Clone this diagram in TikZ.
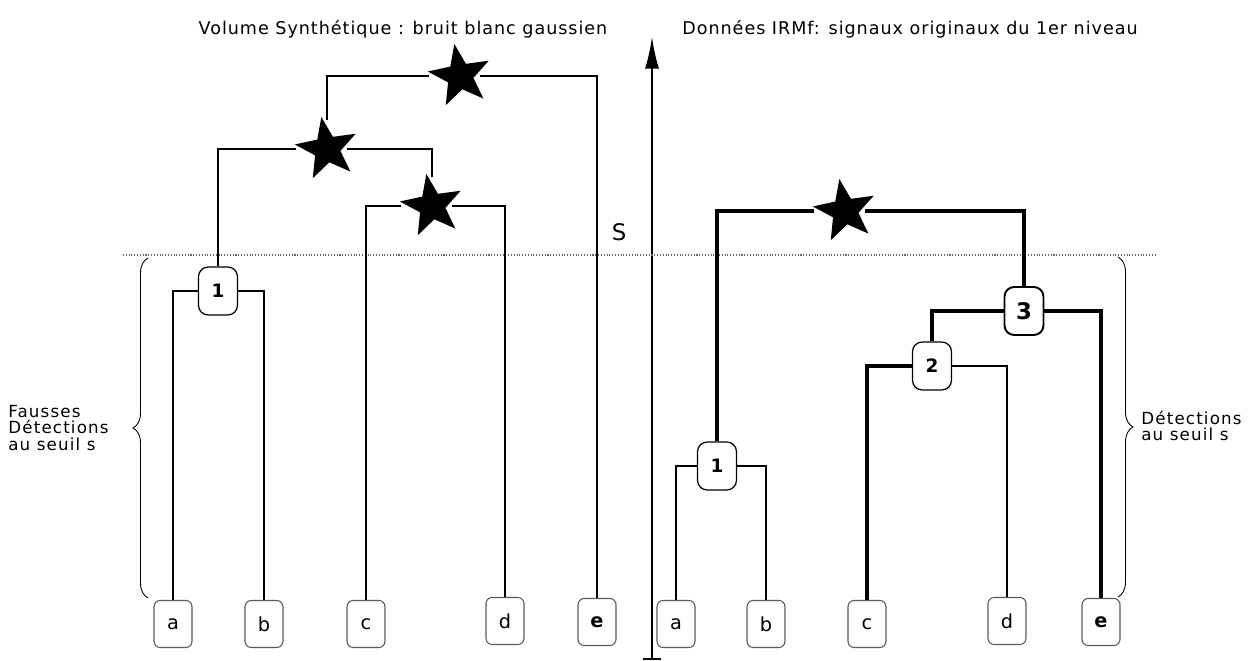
\documentclass[tikz,border=0pt]{standalone}
\usepackage{fontspec}
\setmainfont{DejaVu Sans}
\newfontfamily\spacedA[LetterSpace=5.5]{DejaVu Sans}
\newfontfamily\spacedB[LetterSpace=7]{DejaVu Sans}
\usetikzlibrary {positioning}
\usetikzlibrary {shapes.geometric}
\usetikzlibrary {arrows.meta}
\usetikzlibrary {decorations.pathreplacing}
\tikzset{
leafA/.style={rectangle,rounded corners=3.5pt,minimum height=0.94cm,minimum width=0.76cm,draw=black!65,line width=0.6pt,font=\fontsize{11}{13}\selectfont}
}
\tikzset{
numA/.style={rectangle,rounded corners=5.5pt,minimum height=0.96cm,minimum width=0.78cm,draw=black,line width=0.7pt,font=\fontsize{10.5}{12}\selectfont\bfseries}
}
\tikzset{
numB/.style={numA,line width=1.1pt,font=\fontsize{13}{15}\selectfont\bfseries}
}
\tikzset{
starA/.style={star,star points=5,star point ratio=2.4,fill=black,minimum size=1.3cm,inner sep=0pt,outer sep=2pt,rotate=10}
}
\tikzset{
linkA/.style={line width=1pt},linkB/.style={line width=1.8pt},
braceA/.style={decorate,decoration={brace,amplitude=0.3cm},line width=0.5pt},
sideT/.style={inner sep=0pt,anchor=west,align=left,font=\spacedB\fontsize{9.5}{9.2}\selectfont}
}

\begin{document}
\begin{tikzpicture}[x=0.02cm,y=-0.02cm]
\useasboundingbox (0,0) rectangle (1259,661);

\node[font=\spacedA\fontsize{10}{12}\selectfont] (titleL) at (403,29) {Volume Synthétique : bruit blanc gaussien};
\node[font=\spacedA\fontsize{10}{12}\selectfont] (titleR) at (910,29) {Données IRMf: signaux originaux du 1er niveau};
\node[font=\fontsize{13}{15}\selectfont] (sLbl) at (619,232) {S};

\coordinate (axB) at (652,660);
\coordinate (axT) at (652,37);
\draw[line width=1.1pt,{Bar[width=10pt]}-{Latex[length=18pt,width=8pt]}] (axB) -- (axT);
\coordinate (thrL) at (123,255);
\coordinate (thrR) at (1157,255);
\draw[densely dotted,black!60,line width=0.6pt] (thrL) -- (thrR);

% leaves
\foreach \n/\x/\y/\t in {a/173/624/a,b/264/624/b,c/366/624/c,d/505/621/d,e/597/622/{\bfseries e}}
{
\node[leafA] (L\n) at (\x,\y) {\t};
}
\foreach \n/\x/\y/\t in {a/676/624/a,b/766/624/b,c/867/624/c,d/1007/621/d,e/1101/622/{\bfseries e}}
{
\node[leafA] (R\n) at (\x,\y) {\t};
}

%------------------------------------------------------------------------------------------------------------%
\node[numA] (L1) at (218,291) {1};
\node[starA] (Ls3) at (432,206) {};
\node[starA] (Ls2) at (327,149) {};
\node[starA] (Ls1) at (460,76) {};

\draw[linkA] (L1) -| (La);
\draw[linkA] (L1) -| (Lb);
\draw[linkA] (Ls3) -| (Lc);
\draw[linkA] (Ls3) -| (Ld);
\draw[linkA] (Ls2) -| (L1);
\draw[linkA] (Ls2) -| (Ls3);
\draw[linkA] (Ls1) -| (Ls2);
\draw[linkA] (Ls1) -| (Le);

%------------------------------------------------------------------------------------------------------------%
\node[numA] (R1) at (717,466) {1};
\node[numA] (R2) at (932,366) {2};
\node[numB] (R3) at (1024,311) {3};
\node[starA] (Rs) at (845,211) {};

\draw[linkA] (R1) -| (Ra);
\draw[linkA] (R1) -| (Rb);
\draw[linkB] (R2) -| (Rc);
\draw[linkA] (R2) -| (Rd);
\draw[linkB] (R3) -| (R2);
\draw[linkB] (R3) -| (Re);
\draw[linkB] (Rs) -| (R1);
\draw[linkB] (Rs) -| (R3);

% braces
\coordinate (bLtop) at (148,258);
\coordinate (bLbot) at (148,598);
\draw[braceA] (bLbot) -- (bLtop);
\coordinate (bRtop) at (1118,257);
\coordinate (bRbot) at (1118,597);
\draw[braceA] (bRtop) -- (bRbot);
\node[sideT] (fauxLbl) at (8,428) {Fausses\\Détections\\au seuil s};
\node[sideT] (detLbl) at (1141,426) {Détections\\au seuil s};

\end{tikzpicture}
\end{document}
